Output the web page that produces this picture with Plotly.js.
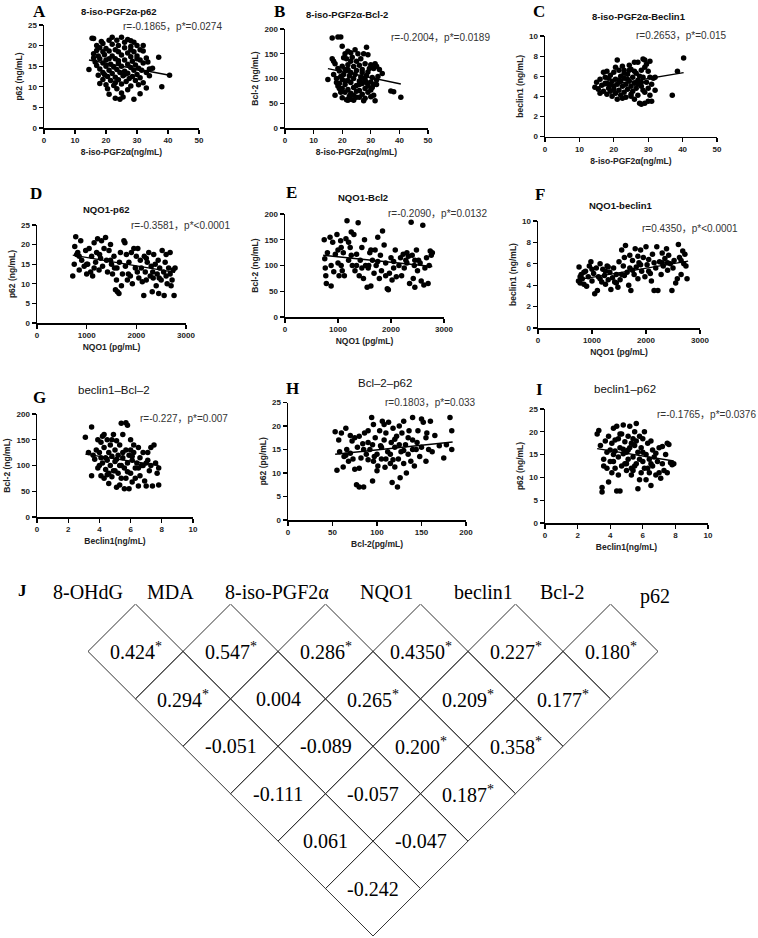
<!DOCTYPE html>
<html><head><meta charset="utf-8">
<script src="https://cdn.plot.ly/plotly-3.0.1.min.js"></script>
<style>html,body{margin:0;padding:0;background:#fff}</style>
</head><body>
<div id="chart" style="width:758px;height:938px"></div>
<script>
// ---------------- DATA ----------------
// A: 8-iso-PGF2a (x) vs p62 (y)
const ptsA = [[15.5,21.8],[16,21.7],[25,22],[23.5,21.3],[27,21.5],[28,21.2],[21,21.3],[19,20.5],[26,20.8],[30,20],[32,20],[17,20],[22,20.3],[24,20],[18,19.5],[20,19.3],[23,19],[26,19.5],[28,19.8],[31,19],[19,18.5],[21,18.7],[24,18.5],[27,18.2],[29,18.5],[32,18.7],[16,18],[17.5,17.5],[19.5,17.8],[22,17.5],[25,17.7],[28,17.3],[30,17.5],[33,17],[37,17.2],[18,16.8],[20,16.5],[23,16.8],[26,16.5],[28.5,16.2],[31,16.5],[16.5,16],[19,15.8],[21.5,15.5],[24,15.8],[27,15.5],[29.5,15.3],[32,15.8],[17,15.2],[20,15],[22.5,14.8],[25,15],[28,14.7],[30.5,14.5],[14.5,14.2],[18,14.3],[21,14],[23.5,14.2],[26,13.8],[29,14],[31.5,14],[34,14.3],[19,13.5],[22,13.2],[24.5,13.5],[27,13.3],[30,13],[33,13.5],[17.5,12.8],[20.5,12.5],[23,12.3],[25.5,12.7],[28.5,12.5],[31,12.2],[19,11.8],[21.5,11.5],[24,11.7],[26.5,11.3],[29.5,11.5],[32,11],[18,10.8],[20,10.5],[22.5,10.3],[25,10.7],[28,10.2],[30.5,10.5],[38,10],[20.5,9.5],[23.5,9.5],[27,9.3],[33,9.7],[21,8.2],[25,8.5],[31,8.3],[23,7.2],[24.5,7],[25.5,7.5],[29,7],[40.5,12.8],[35,14.5],[16,17],[33.5,16],[22,22],[18.5,21],[29,20.8],[26,13],[24,16.3],[21,16.8],[27.5,12],[19.5,13],[30,16.8],[34,12.7],[23,11],[28,19],[17,18.8]];
const fitA = [[14.5,16.5],[40.5,12.8]];

// B: 8-iso-PGF2a (x) vs Bcl-2 (y)
const ptsB = [[15,98],[16.5,182],[18.5,184],[19.5,184],[20,165],[16.5,140],[17,135],[17.5,130],[18,92],[18.5,85],[19,80],[19.5,72],[17.5,66],[20,61],[21.5,57],[22,56],[23,58],[27.5,55],[31.5,55],[30,63],[31,66],[37,75],[38,73],[40.5,62],[28.5,163],[27.5,150],[29,148],[31.5,130],[32,125],[32.5,104],[21,150],[22,155],[23,152],[24.5,158],[21.5,140],[23.5,143],[25,135],[26.5,140],[20,125],[22,128],[24,124],[26,127],[28,130],[30,128],[19,115],[21,118],[23,112],[25,116],[27,118],[29,113],[31,120],[20.5,108],[22.5,105],[24.5,108],[26.5,103],[28.5,106],[30.5,102],[18,100],[20,98],[22,96],[24,100],[26,95],[28,98],[30,93],[32,97],[19,90],[21,88],[23,92],[25,86],[27,90],[29,85],[31,88],[20,80],[22,78],[24,82],[26,76],[28,80],[30,77],[21,72],[23,70],[25,74],[27,68],[29,72],[22.5,64],[26,62],[28,60],[24,66],[18.5,120],[17,108],[33,118],[34,110],[20.5,142],[25.5,150],[27,112],[29.5,120],[23,135],[19.5,104],[26,88],[24,56],[25,62],[21,95],[28.5,92],[30.5,82],[32,88],[22,118],[27.5,100]];
const fitB = [[15,120],[40.5,89]];

// C: 8-iso-PGF2a (x) vs beclin1 (y)
const ptsC = [[14.5,4.9],[15,5.4],[15.5,4.7],[16,5.7],[16.5,5.1],[17,4.5],[17,6.4],[17.5,5.9],[18,4.2],[18,5.3],[18.5,5.8],[18.5,4.8],[19,6.1],[19,4.5],[19.5,5.5],[19.5,4.0],[20,5.0],[20,6.4],[20.5,4.3],[20.5,5.7],[21,7.6],[21,3.7],[21,5.2],[21.5,4.6],[21.5,6.6],[22,5.5],[22,4.1],[22,6.0],[22.5,5.0],[22.5,7.0],[23,4.4],[23,5.8],[23,6.6],[23.5,5.2],[23.5,3.9],[24,6.2],[24,4.7],[24.5,5.5],[24.5,7.1],[25,4.2],[25,6.7],[25,5.0],[25.5,5.9],[25.5,4.5],[26,7.4],[26,5.3],[26,3.7],[26.5,6.3],[26.5,4.8],[27,7.4],[27,5.6],[27,4.1],[27.5,6.0],[27.5,3.3],[28,5.0],[28,6.6],[28,3.2],[28.5,7.7],[28.5,4.6],[28.5,5.9],[29,7.6],[29,3.3],[29,6.9],[29,4.4],[29.5,5.4],[29.5,7.2],[30,3.5],[30,6.5],[30,4.8],[30.5,5.9],[30.5,7.5],[31,3.5],[31,5.2],[31.5,5.8],[32,5.9],[32,4.6],[37,4.1],[38.5,6.5],[40.3,7.8],[18,6.5],[23,6.3],[26,6.5],[20,4.7],[24,5.7],[22.5,3.8],[19,5.2],[27,5.2],[16,4.3],[20.5,6.9],[25,4.0],[28,5.4],[17.5,5.3],[21.5,5.6],[30.5,4.1],[24.5,6.6]];
const fitC = [[14,4.85],[40.3,6.35]];

// D: NQO1 (x) vs p62 (y)
const ptsD = [[720,12],[750,15],[760,19.5],[780,22],[800,17.5],[820,18],[850,13.5],[880,21],[900,16],[950,14.5],[980,18.5],[1000,12.5],[1020,15],[1050,19],[1080,13],[1100,17],[1120,12],[1150,20.5],[1180,15.5],[1200,18],[1220,21.5],[1250,13.5],[1280,16.5],[1300,21],[1320,14.5],[1350,19],[1380,21.8],[1400,16],[1420,13],[1450,18.5],[1480,20],[1500,15],[1520,12.5],[1550,17],[1580,8.5],[1600,11],[1610,14],[1620,8],[1650,7.5],[1660,15.5],[1680,18],[1700,9.5],[1720,12.5],[1750,21],[1770,20.5],[1780,14.5],[1800,17.5],[1820,11],[1850,15.5],[1880,12],[1900,18],[1920,10],[1950,19],[1980,14],[2000,17],[2020,13],[2050,11.5],[2080,16],[2100,14],[2120,10.5],[2150,7],[2160,17],[2180,13],[2200,11],[2220,15.5],[2250,18],[2280,12],[2300,14.5],[2320,8],[2340,11.5],[2350,17.5],[2380,15],[2400,9.5],[2420,12.5],[2440,16],[2450,7.5],[2470,14],[2500,11],[2520,18.5],[2550,13],[2560,7],[2580,15.5],[2600,12],[2620,10],[2650,14],[2680,18],[2700,9.5],[2720,11],[2740,13.5],[2760,7],[2780,14],[1000,15],[1260,17.5],[1560,14],[1840,12.5],[2030,19],[2330,13],[2600,17.5],[1150,14],[850,17],[2460,11.5],[2200,16.5],[1480,16],[2680,12.5]];
const fitD = [[720,17.3],[2780,12.9]];

// E: NQO1 (x) vs Bcl-2 (y)
const ptsE = [[740,150],[750,113],[760,95],[770,80],[780,65],[800,125],[850,155],[870,60],[900,145],[920,88],[950,122],[980,160],[1000,105],[1020,80],[1050,148],[1060,135],[1080,90],[1100,125],[1120,80],[1150,152],[1170,187],[1200,110],[1230,135],[1250,165],[1270,100],[1300,160],[1320,90],[1350,122],[1380,183],[1400,80],[1420,110],[1450,135],[1480,75],[1500,150],[1520,100],[1550,58],[1570,95],[1600,125],[1620,60],[1650,110],[1680,85],[1700,130],[1720,100],[1750,155],[1780,75],[1800,120],[1820,90],[1840,167],[1870,140],[1900,105],[1930,55],[1950,53],[1970,85],[2000,115],[2020,72],[2050,95],[2080,130],[2100,78],[2150,100],[2180,115],[2200,80],[2230,122],[2250,95],[2280,110],[2300,105],[2330,118],[2350,65],[2380,184],[2400,120],[2420,75],[2440,100],[2450,58],[2480,130],[2500,90],[2520,110],[2550,105],[2570,70],[2600,178],[2620,62],[2640,95],[2670,115],[2700,65],[2720,100],[2740,128],[2760,120],[2780,125],[1250,120],[1580,100],[1350,100],[1450,95],[1900,80],[2300,125],[1060,100],[1750,108],[2450,110],[1200,145],[1620,130],[870,100],[1000,130],[2050,108]];
const fitE = [[720,120],[2780,98]];

// F: NQO1 (x) vs beclin1 (y)
const ptsF = [[750,4.4],[760,5.7],[780,4.2],[800,5.0],[820,4.6],[850,4.1],[880,5.3],[900,3.9],[930,4.8],[950,5.8],[980,6.2],[1000,4.4],[1030,5.1],[1050,3.2],[1080,5.6],[1100,3.5],[1120,4.8],[1150,6.0],[1180,4.3],[1200,5.5],[1230,4.9],[1250,4.1],[1280,5.8],[1300,4.5],[1330,5.2],[1350,3.6],[1380,4.7],[1400,5.6],[1420,4.3],[1450,5.0],[1480,3.8],[1500,6.2],[1520,4.5],[1550,7.3],[1580,5.8],[1600,6.6],[1620,7.7],[1650,5.2],[1680,4.0],[1700,6.8],[1720,3.5],[1750,6.3],[1780,5.0],[1800,7.4],[1820,5.7],[1850,4.6],[1870,6.1],[1900,7.3],[1920,5.3],[1950,6.6],[1980,4.8],[2000,7.6],[2020,5.9],[2050,6.4],[2080,5.1],[2100,4.4],[2120,6.9],[2150,3.5],[2180,5.6],[2200,7.6],[2220,3.5],[2250,6.2],[2280,5.0],[2300,7.0],[2320,5.8],[2350,6.5],[2380,7.4],[2400,5.4],[2420,6.8],[2450,6.0],[2480,3.5],[2500,5.6],[2520,6.3],[2550,4.2],[2580,4.6],[2600,7.8],[2620,6.6],[2650,5.0],[2680,7.2],[2700,6.0],[2720,6.9],[2740,5.8],[2760,4.6],[1000,5.5],[1300,5.7],[1600,4.9],[1900,5.9],[2300,6.1],[1150,4.6],[1450,4.2],[1750,5.4],[2050,5.3],[2400,6.1],[850,5.2],[1250,5.3],[1550,5.0],[1850,6.7],[2150,6.1],[2650,6.3],[780,4.8],[1700,5.6]];
const fitF = [[720,4.5],[2780,6.25]];

// G: beclin1 (x) vs Bcl-2 (y)
const ptsG = [[3.1,155],[3.3,125],[3.5,80],[3.5,175],[3.6,120],[3.7,112],[3.8,130],[3.9,95],[4.0,125],[4.1,145],[4.1,80],[4.2,105],[4.2,157],[4.3,75],[4.3,135],[4.4,92],[4.4,115],[4.5,150],[4.5,82],[4.6,125],[4.6,65],[4.7,100],[4.7,140],[4.8,78],[4.8,118],[4.9,160],[4.9,90],[5.0,108],[5.0,130],[5.1,58],[5.1,148],[5.2,85],[5.2,120],[5.3,100],[5.3,140],[5.4,182],[5.4,75],[5.5,115],[5.5,160],[5.6,55],[5.6,95],[5.7,130],[5.7,183],[5.8,105],[5.8,178],[5.9,120],[5.9,55],[6.0,150],[6.0,85],[6.1,110],[6.1,68],[6.2,125],[6.3,95],[6.3,75],[6.4,105],[6.5,135],[6.5,60],[6.6,80],[6.6,115],[6.7,100],[6.8,125],[6.9,70],[7.0,105],[7.0,60],[7.1,125],[7.2,90],[7.3,100],[7.3,135],[7.4,60],[7.5,140],[7.6,105],[7.7,85],[7.8,62],[7.8,95],[3.9,150],[4.5,110],[5.0,90],[5.5,125],[6.0,130],[6.5,95],[4.0,100],[4.8,150],[5.3,62],[5.8,88],[6.2,140],[4.3,160],[5.1,112],[4.6,85],[5.7,75],[6.8,100],[4.1,115],[5.4,100],[6.1,118],[7.1,110]];
const fitG = [[3.1,122],[7.8,100]];

// H: Bcl-2 (x) vs p62 (y)
const ptsH = [[53,18.8],[55,10.6],[57,17],[58,14.5],[60,18.5],[62,11.3],[63,13.5],[65,19.5],[66,15],[68,12.5],[70,18],[72,16.8],[73,13],[75,10.8],[75,17.5],[77,7.5],[78,15.5],[80,17.8],[80,7],[82,13.2],[84,16.2],[85,7],[86,18.5],[88,14],[90,12.8],[90,19],[92,15],[94,21.8],[95,8.3],[96,20.3],[97,13.5],[98,17.5],[100,14],[101,11.5],[103,19],[104,15.8],[105,13],[106,21],[108,17],[109,11.2],[110,18.5],[112,14.5],[113,20.8],[115,12],[116,16.5],[117,8],[118,19.5],[120,11.3],[120,15.5],[122,17.8],[123,7],[124,13],[125,20],[126,9],[127,14.5],[128,18.5],[130,12],[130,21],[132,16],[133,10],[135,14],[136,19],[138,12.5],[140,21.8],[140,17],[142,11.5],[144,15],[146,19],[148,13.5],[150,21.5],[150,15.5],[152,20.8],[155,12.5],[156,18.5],[158,15],[160,21],[162,14.5],[165,18],[170,15.8],[175,13.2],[178,16],[182,21.8],[184,19],[184,15],[70,14.2],[85,15],[95,16],[105,15.5],[115,14],[125,16],[135,17.5],[145,16.5],[100,10.5],[110,13],[120,17.2],[130,14.8],[90,16.5],[80,11],[65,13.8],[140,15],[155,17.5],[108,20.3],[118,12.8],[96,12.5]];
const fitH = [[53,14.0],[185,16.6]];

// I: beclin1 (x) vs p62 (y)
const ptsI = [[3.2,19.5],[3.3,20.3],[3.4,17],[3.5,7.8],[3.5,6.8],[3.6,14],[3.6,12.5],[3.7,18],[3.8,15.5],[3.9,9],[3.9,19],[4.0,13.5],[4.1,17.5],[4.1,11],[4.2,20.8],[4.2,15],[4.3,12],[4.3,18.2],[4.4,21.2],[4.4,7],[4.5,14.5],[4.5,10.5],[4.6,16.5],[4.6,7],[4.7,19.5],[4.7,12.5],[4.8,21.5],[4.8,15.2],[4.9,13],[4.9,17.8],[5.0,11.5],[5.0,15.5],[5.1,19],[5.1,14],[5.2,21.2],[5.2,16.5],[5.3,12],[5.3,10.5],[5.4,18.5],[5.4,14.5],[5.5,20],[5.5,17],[5.6,13],[5.6,21.8],[5.7,7.5],[5.7,15.5],[5.8,19],[5.8,9.5],[5.9,11],[5.9,16.5],[6.0,13.5],[6.0,18.5],[6.1,12],[6.2,15],[6.2,9.5],[6.3,17.5],[6.4,11],[6.4,14],[6.5,8.2],[6.5,18],[6.6,16],[6.6,12.5],[6.7,14.5],[6.8,10.5],[6.9,13.5],[7.0,11],[7.0,16.5],[7.1,9.8],[7.2,13],[7.3,11.5],[7.4,15],[7.5,17.5],[7.5,11],[7.6,17.2],[7.7,13.2],[7.8,12.8],[7.9,13],[4.0,16],[4.5,18.5],[5.0,13],[5.5,12.5],[6.0,15.5],[6.5,13],[4.2,13.5],[4.8,16.2],[5.3,17.5],[5.8,14],[6.3,12],[3.8,12],[4.6,19.5],[5.1,16],[5.6,18],[6.1,20],[4.3,15.8],[5.4,11.5],[6.8,15.3],[7.2,16.8]];
const fitI = [[3.2,16.3],[7.9,13.6]];

// J: correlation matrix (diagonal rows, top row first)
const matrixHeaders = ["8-OHdG","MDA","8-iso-PGF2α","NQO1","beclin1","Bcl-2","p62"];
const matrixValues = [
  ["0.424","0.547","0.286","0.4350","0.227","0.180"],
  ["0.294","0.004","0.265","0.209","0.177"],
  ["-0.051","-0.089","0.200","0.358"],
  ["-0.111","-0.057","0.187"],
  ["0.061","-0.047"],
  ["-0.242"]
];
const matrixSig = [
  [1,1,1,1,1,1],
  [1,0,1,1,1],
  [0,0,1,1],
  [0,0,1],
  [0,0],
  [0]
];

// ---------------- LAYOUT CONFIG ----------------
const W = 758, H = 938;
const px = x => x / W;
const py = y => 1 - y / H;
const SANS = 'Liberation Sans, Arial, Noto Sans CJK SC, sans-serif';
const SERIF = 'Liberation Serif, Times New Roman, serif';

const panels = [
  {L:'A', pts:ptsA, fit:fitA, box:[44,199,128,25], xr:[0,50], yr:[0,25], dx:10, dy:5, xt:'8-iso-PGF2α(ng/mL)', yt:'p62 (ng/mL)', title:'8-iso-PGF2α-p62', tp:[119,11], bold:true, lp:[39,11], r:'r=-0.1865，p*=0.0274', rp:[172,26]},
  {L:'B', pts:ptsB, fit:fitB, box:[285,428,128,29], xr:[0,50], yr:[0,200], dx:10, dy:50, xt:'8-iso-PGF2α(ng/mL)', yt:'Bcl-2 (ng/mL)', title:'8-iso-PGF2α-Bcl-2', tp:[347,14], bold:true, lp:[279,11], r:'r=-0.2004，p*=0.0189', rp:[440,37]},
  {L:'C', pts:ptsC, fit:fitC, box:[545,717,136.5,36], xr:[0,50], yr:[0,10], dx:10, dy:2, xt:'8-iso-PGF2α(ng/mL)', yt:'beclin1 (ng/mL)', title:'8-iso-PGF2α-Beclin1', tp:[639,17], bold:true, lp:[539,12], r:'r=0.2653，p*=0.015', rp:[681,35]},
  {L:'D', pts:ptsD, fit:fitD, box:[37,186,323,225], xr:[0,3000], yr:[0,25], dx:1000, dy:5, xt:'NQO1 (pg/mL)', yt:'p62 (ng/mL)', title:'NQO1-p62', tp:[106,210], bold:true, lp:[36,193], r:'r=-0.3581，p*<0.0001', rp:[180,225]},
  {L:'E', pts:ptsE, fit:fitE, box:[285,444,317,214], xr:[0,3000], yr:[0,200], dx:1000, dy:50, xt:'NQO1 (pg/mL)', yt:'Bcl-2 (ng/mL)', title:'NQO1-Bcl2', tp:[363,197], bold:true, lp:[291,192], r:'r=-0.2090，p*=0.0132', rp:[437,214]},
  {L:'F', pts:ptsF, fit:fitF, box:[538,700,328,221], xr:[0,3000], yr:[0,10], dx:1000, dy:2, xt:'NQO1 (pg/mL)', yt:'beclin1 (ng/mL)', title:'NQO1-beclin1', tp:[621,205], bold:true, lp:[540,195], r:'r=0.4350，p*<0.0001', rp:[690,228]},
  {L:'G', pts:ptsG, fit:fitG, box:[37,193,517,414], xr:[0,10], yr:[0,200], dx:2, dy:50, xt:'Beclin1(ng/mL)', yt:'Bcl-2 (ng/mL)', title:'beclin1–Bcl–2', tp:[114,390], bold:false, lp:[39,397], r:'r=-0.227，p*=0.007', rp:[184,418]},
  {L:'H', pts:ptsH, fit:fitH, box:[288,466,520,402.5], xr:[0,200], yr:[0,25], dx:50, dy:5, xt:'Bcl-2(pg/mL)', yt:'p62 (pg/mL)', title:'Bcl–2–p62', tp:[385,383], bold:false, lp:[292,388], r:'r=0.1803，p*=0.033', rp:[430,402]},
  {L:'I', pts:ptsI, fit:fitI, box:[545,708,523,409], xr:[0,10], yr:[0,25], dx:2, dy:5, xt:'Beclin1(ng/mL)', yt:'p62 (ng/mL)', title:'beclin1–p62', tp:[625,389], bold:false, lp:[539,390], r:'r=-0.1765，p*=0.0376', rp:[706,414]}
];

const traces = [];
const annotations = [];
const layout = {
  width: W, height: H,
  margin: {l:0, r:0, t:0, b:0},
  paper_bgcolor: '#fff', plot_bgcolor: 'rgba(0,0,0,0)',
  showlegend: false,
  font: {family: SANS, color: '#000'}
};

panels.forEach((p, i) => {
  const n = i + 1;
  const sfx = n === 1 ? '' : String(n);
  traces.push({
    type: 'scatter', mode: 'markers',
    x: p.pts.map(d => d[0]), y: p.pts.map(d => d[1]),
    xaxis: 'x' + sfx, yaxis: 'y' + sfx,
    marker: {size: 5.5, color: '#000'}, cliponaxis: false, hoverinfo: 'skip'
  });
  traces.push({
    type: 'scatter', mode: 'lines',
    x: p.fit.map(d => d[0]), y: p.fit.map(d => d[1]),
    xaxis: 'x' + sfx, yaxis: 'y' + sfx,
    line: {color: '#000', width: 1.4}, hoverinfo: 'skip'
  });
  const common = {
    showline: true, linecolor: '#000', linewidth: 1.5,
    ticks: 'outside', ticklen: 4, tickwidth: 1.2, tickcolor: '#000',
    showgrid: false, zeroline: false, tick0: 0, fixedrange: true,
    tickfont: {family: SANS, size: 8, weight: 'bold', color: '#222'}
  };
  layout['xaxis' + sfx] = Object.assign({}, common, {
    domain: [px(p.box[0]), px(p.box[1])], range: p.xr, dtick: p.dx,
    anchor: 'y' + sfx,
    title: {text: p.xt, font: {family: SANS, size: 8.5, weight: 'bold', color: '#222'}, standoff: 5}
  });
  layout['yaxis' + sfx] = Object.assign({}, common, {
    domain: [py(p.box[2]), py(p.box[3])], range: p.yr, dtick: p.dy,
    anchor: 'x' + sfx,
    title: {text: p.yt, font: {family: SANS, size: 8.5, weight: 'bold', color: '#222'}, standoff: 4}
  });
  annotations.push({
    xref: 'paper', yref: 'paper', x: px(p.tp[0]), y: py(p.tp[1]),
    xanchor: 'center', yanchor: 'middle', showarrow: false, text: p.title,
    font: p.bold ? {family: SANS, size: 9.5, weight: 'bold', color: '#111'}
                 : {family: SANS, size: 11.5, color: '#111'}
  });
  annotations.push({
    xref: 'paper', yref: 'paper', x: px(p.lp[0]), y: py(p.lp[1]),
    xanchor: 'center', yanchor: 'middle', showarrow: false, text: '<b>' + p.L + '</b>',
    font: {family: SERIF, size: 17, color: '#000'}
  });
  annotations.push({
    xref: 'paper', yref: 'paper', x: px(p.rp[0]), y: py(p.rp[1]),
    xanchor: 'center', yanchor: 'middle', showarrow: false, text: p.r,
    font: {family: SANS, size: 10, color: '#333'}
  });
});

// ---------------- MATRIX (J) ----------------
layout.xaxis10 = {domain: [px(88), px(658)], range: [0, 12], visible: false, fixedrange: true, anchor: 'y10'};
layout.yaxis10 = {domain: [py(936), py(604)], range: [-6, 1], visible: false, fixedrange: true, anchor: 'x10'};
const ex = [], ey = [];
matrixValues.forEach((row, r) => {
  row.forEach((val, c) => {
    const u = 1 + r + 2 * c, v = -r;
    ex.push(u - 1, u, u + 1, u, u - 1, null);
    ey.push(v, v + 1, v, v - 1, v, null);
    annotations.push({
      xref: 'x10', yref: 'y10', x: u, y: v, xanchor: 'center', yanchor: 'middle',
      showarrow: false,
      text: val + (matrixSig[r][c] ? '<sup>*</sup>' : ''),
      font: {family: SERIF, size: 20, color: '#000'}
    });
  });
});
traces.push({
  type: 'scatter', mode: 'lines', x: ex, y: ey, xaxis: 'x10', yaxis: 'y10',
  line: {color: '#333', width: 1}, hoverinfo: 'skip'
});
const headerX = [88, 170, 277, 386, 483, 562, 655];
const headerY = [592, 592, 592, 592, 592, 592, 596];
matrixHeaders.forEach((h, k) => {
  annotations.push({
    xref: 'paper', yref: 'paper', x: px(headerX[k]), y: py(headerY[k]),
    xanchor: 'center', yanchor: 'middle', showarrow: false, text: h,
    font: {family: SERIF, size: 20, color: '#000'}
  });
});
annotations.push({
  xref: 'paper', yref: 'paper', x: px(22), y: py(590),
  xanchor: 'center', yanchor: 'middle', showarrow: false, text: '<b>J</b>',
  font: {family: SERIF, size: 17, color: '#000'}
});

layout.annotations = annotations;
Plotly.newPlot('chart', traces, layout, {staticPlot: true, displayModeBar: false});
</script>
</body></html>
